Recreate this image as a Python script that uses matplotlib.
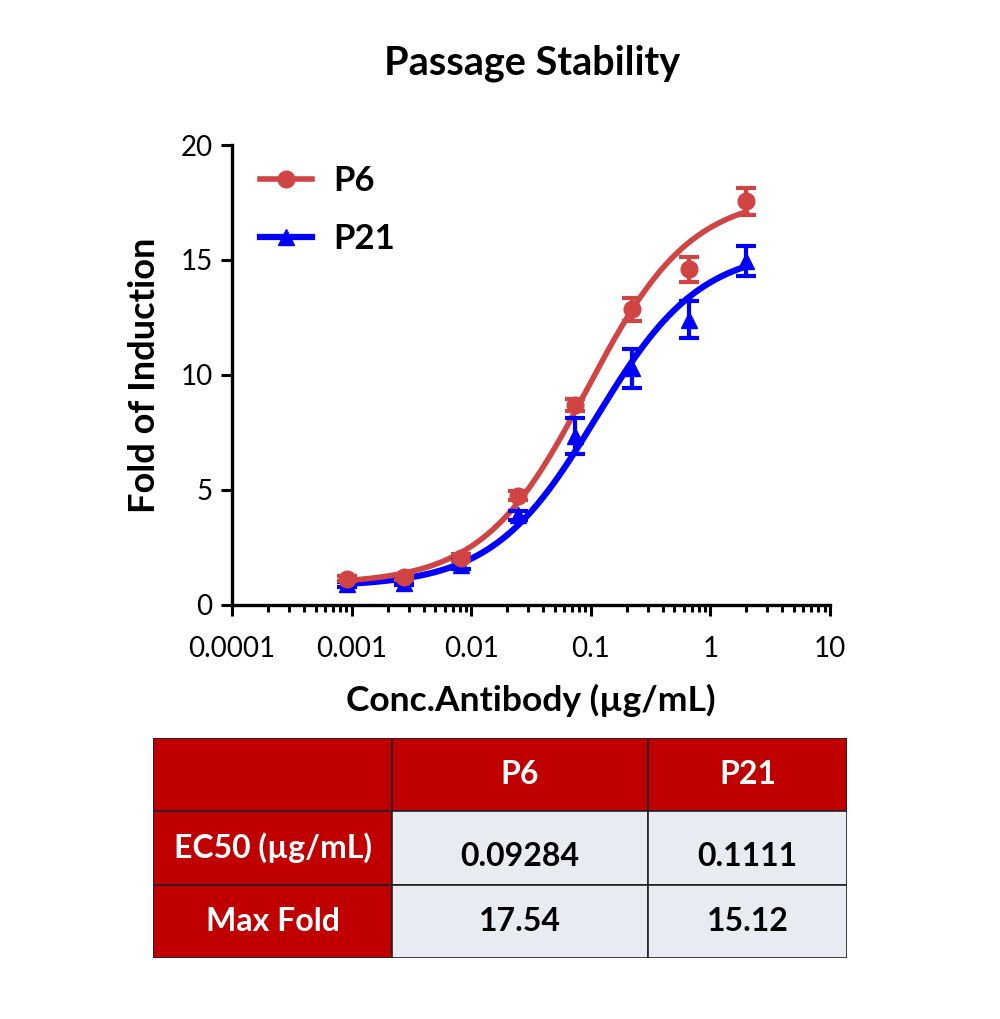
import numpy as np
import matplotlib.pyplot as plt
from matplotlib.patches import Rectangle

plt.rcParams['font.family'] = ['Lato', 'DejaVu Sans']

# data
conc = [2.0, 0.6667, 0.2222, 0.07407, 0.02469, 0.00823, 0.002743, 0.000914]
p6_mean = [17.55, 14.6, 12.85, 8.7, 4.75, 2.05, 1.2, 1.15]
p6_err = [0.6, 0.55, 0.5, 0.25, 0.2, 0.15, 0.1, 0.1]
p21_mean = [14.95, 12.4, 10.3, 7.35, 3.9, 1.75, 0.95, 0.9]
p21_err = [0.65, 0.8, 0.85, 0.8, 0.2, 0.2, 0.1, 0.1]

# 4PL fit parameters (bottom, top, ec50, hill)
p6_fit = (0.9, 17.85, 0.09284, 1.0)
p21_fit = (0.8, 15.5, 0.1111, 1.0)

# table
col_labels = ['', 'P6', 'P21']
row_labels = ['EC50 (\u00b5g/mL)', 'Max Fold']
ec50_vals = ['0.09284', '0.1111']
maxfold_vals = ['17.54', '15.12']

red = '#D04444'
blue = '#0000FF'
dark_red = '#C00000'
light = '#E9EBF3'


def four_pl(x, b, t, ec, h):
    return b + (t - b) / (1 + (ec / x) ** h)


fig = plt.figure(figsize=(10, 10.19), dpi=100)
ax = fig.add_axes([0.232, 0.4063, 0.598, 0.4514])

xs = np.logspace(np.log10(min(conc)), np.log10(max(conc)), 300)
ax.plot(xs, four_pl(xs, *p21_fit), color=blue, lw=4.5, zorder=3)
ax.plot(xs, four_pl(xs, *p6_fit), color=red, lw=4, zorder=4)

ax.errorbar(conc, p21_mean, yerr=p21_err, fmt='^', color=blue, ms=12,
            elinewidth=3, capsize=7, capthick=3, zorder=5)
ax.errorbar(conc, p6_mean, yerr=p6_err, fmt='o', color=red, ms=12,
            elinewidth=3, capsize=7, capthick=3, zorder=5)

# legend handles
h6, = ax.plot([], [], color=red, lw=4, marker='o', ms=12)
h21, = ax.plot([], [], color=blue, lw=4.5, marker='^', ms=12)
ax.legend([h6, h21], ['P6', 'P21'], loc='upper left', frameon=False,
          prop={'weight': 'bold', 'size': 25}, handlelength=1.5,
          handletextpad=0.6, labelspacing=0.75, bbox_to_anchor=(-0.005, 1.025))

ax.set_xscale('log')
ax.set_xlim(1e-4, 10)
ax.set_ylim(0, 20)
ax.set_yticks([0, 5, 10, 15, 20])
ax.set_xticks([1e-4, 1e-3, 1e-2, 1e-1, 1, 10])
ax.set_xticklabels(['0.0001', '0.001', '0.01', '0.1', '1', '10'])
ax.tick_params(labelsize=20, width=2.2, length=8, pad=6)
ax.tick_params(axis='x', pad=14)
ax.tick_params(axis='x', which='minor', width=2.2, length=5)
for s in ['top', 'right']:
    ax.spines[s].set_visible(False)
for s in ['left', 'bottom']:
    ax.spines[s].set_linewidth(2.4)

ax.set_xlabel('Conc.Antibody (\u00b5g/mL)', fontsize=25.5, fontweight='bold', labelpad=16)
ax.set_ylabel('Fold of Induction', fontsize=26, fontweight='bold', labelpad=14)
fig.text(0.532, 0.938, 'Passage Stability', fontsize=28.5, fontweight='bold',
         ha='center', va='center')

# table below the chart
tax = fig.add_axes([0.153, 1 - 958 / 1019, 0.694, 220 / 1019])
tax.set_xlim(0, 694)
tax.set_ylim(0, 3)
tax.axis('off')
col_edges = [0, 239, 495, 694]
rows = [col_labels,
        [row_labels[0]] + ec50_vals,
        [row_labels[1]] + maxfold_vals]
for r, row in enumerate(rows):
    y0 = 2 - r
    for c, txt in enumerate(row):
        header = r == 0 or c == 0
        x0, x1 = col_edges[c], col_edges[c + 1]
        tax.add_patch(Rectangle((x0, y0), x1 - x0, 1,
                                facecolor=dark_red if header else light,
                                edgecolor='#222222', lw=1.2))
        dy = -0.12 if (r == 1 and c > 0) else 0
        tax.text((x0 + x1) / 2, y0 + 0.5 + dy, txt, ha='center', va='center',
                 fontsize=23, fontweight='bold',
                 color='white' if header else 'black')

fig.savefig('out.png', dpi=100)
